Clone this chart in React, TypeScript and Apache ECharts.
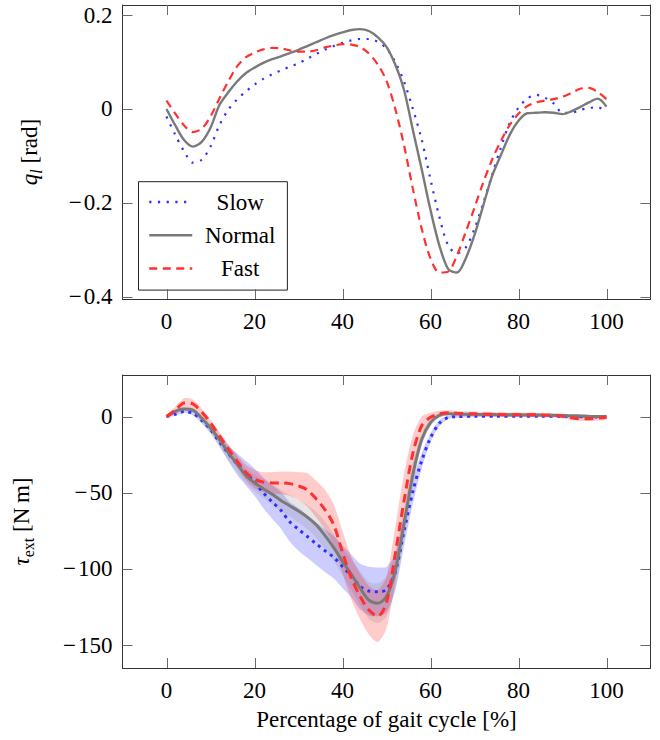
import React, { useEffect, useRef } from 'react';
import * as echarts from 'echarts';

// ---------- data ----------
const xTop = [0, 2, 4, 6, 8, 10, 12, 14, 16, 18, 20, 22, 24, 26, 28, 30, 32, 34, 36, 38, 40, 42, 44, 46, 48, 50,
  52, 54, 56, 58, 60, 62, 64, 66, 68, 70, 72, 74, 76, 78, 80, 82, 84, 86, 88, 90, 92, 94, 96, 98, 100];

const slowQ = [-0.016, -0.055, -0.09, -0.114, -0.108, -0.08, -0.035, -0.002, 0.02, 0.037, 0.052, 0.064, 0.074, 0.082,
  0.09, 0.097, 0.107, 0.117, 0.126, 0.134, 0.141, 0.146, 0.149, 0.149, 0.143, 0.129, 0.1, 0.058, 0.0, -0.065, -0.15,
  -0.229, -0.29, -0.307, -0.295, -0.255, -0.2, -0.14, -0.082, -0.03, 0.003, 0.022, 0.03, 0.024, 0.012, -0.008, -0.008,
  -0.002, 0.002, 0.004, -0.008];

const normalQ = [0.0, -0.035, -0.066, -0.08, -0.07, -0.04, 0.008, 0.035, 0.058, 0.076, 0.088, 0.098, 0.106, 0.112,
  0.119, 0.126, 0.134, 0.142, 0.15, 0.157, 0.163, 0.168, 0.17, 0.166, 0.153, 0.132, 0.094, 0.04, -0.045, -0.128,
  -0.215, -0.29, -0.34, -0.348, -0.318, -0.268, -0.205, -0.143, -0.098, -0.055, -0.025, -0.009, -0.008, -0.007,
  -0.008, -0.011, -0.005, 0.004, 0.014, 0.022, 0.005];

const fastQ = [0.018, -0.01, -0.035, -0.049, -0.042, -0.016, 0.022, 0.058, 0.09, 0.11, 0.12, 0.127, 0.13, 0.129,
  0.125, 0.122, 0.122, 0.125, 0.131, 0.135, 0.138, 0.137, 0.132, 0.118, 0.095, 0.06, 0.0, -0.078, -0.17, -0.255,
  -0.318, -0.348, -0.346, -0.312, -0.262, -0.21, -0.156, -0.108, -0.068, -0.034, -0.01, 0.006, 0.014, 0.018, 0.021,
  0.026, 0.034, 0.043, 0.045, 0.036, 0.021];

const xTau = [0, 2, 4, 6, 8, 10, 12, 14, 16, 18, 20, 22, 24, 26, 28, 30, 32, 34, 36, 38, 40, 42, 44, 46, 48, 50,
  52, 54, 56, 58, 60, 62, 64, 66, 70, 75, 80, 85, 90, 93, 96, 100];

const slowTau = [0, 1.5, 3.3, 2.2, -2.5, -8.5, -16.5, -24, -31, -37, -43, -50, -56, -61.5, -69, -74, -78.7, -83.4,
  -88, -92.3, -98.5, -104.5, -111.5, -114.5, -115, -113.5, -102, -75, -49, -29, -14, -4.4, -0.6, 0, 0.2, 0.3, 0.3,
  0.3, 0.2, 0, -0.3, 0];
const slowTauStd = [0.5, 1, 1, 1.5, 2, 2.5, 3, 5, 7, 8, 9, 10, 11, 12, 13, 14, 14, 14, 14, 14, 14, 14, 15, 16, 16,
  15, 12, 10, 8, 5, 3, 2, 1, 0.8, 0.6, 0.6, 0.6, 0.6, 0.6, 0.6, 0.6, 0.6];

const normalTau = [0, 3.5, 5.0, 4.2, -1.0, -7.5, -15, -23.5, -31, -38.5, -43.5, -47.3, -51, -55, -58.5, -62, -66,
  -71, -78, -86, -95, -103.5, -112.5, -120.5, -122.5, -118, -101, -70, -38, -15, -4, 0.8, 1.8, 1.7, 1.5, 1.3, 1.2,
  1.0, 0.8, 0.5, 0.2, 0];
const normalTauStd = [0.5, 1.5, 1.5, 1.5, 2, 3, 4, 5, 5, 5, 5.5, 6, 6.5, 7, 7, 7.5, 8, 8.5, 9, 9, 9, 10, 11, 12, 13,
  13, 12, 10, 8, 4, 2.5, 1.5, 1, 1, 0.8, 0.8, 0.8, 0.8, 0.8, 0.8, 0.8, 0.8];

const fastTau = [0, 4.2, 9, 8.3, 3, -4, -12.5, -21, -29, -36.5, -41, -43, -43.5, -43.5, -44, -45.5, -48, -54, -61,
  -71, -89, -106, -118, -127, -131, -122, -90, -55, -24, -6, -0.5, 1.8, 2.6, 2.2, 1.8, 1.4, 1.2, 1.1, 0.3, -1.2,
  -1.4, -0.4];
const fastTauStd = [0.5, 2.5, 3, 3, 2.5, 2, 2.5, 3, 4, 5, 6, 6.5, 7, 7.5, 8, 9, 11, 12, 13, 13.5, 14, 14, 15, 16, 17,
  17, 18, 18, 12, 6, 3, 2, 1.5, 1.5, 1.5, 1.5, 1.5, 1.5, 1.5, 1.5, 1.5, 1.5];

const xTicks = [0, 20, 40, 60, 80, 100];
const qTicks = [-0.4, -0.2, 0, 0.2];
const tauTicks = [-150, -100, -50, 0];

// axis ranges
const X_RANGE = [-10, 110];
const Q_RANGE = [-0.4043, 0.2213];
const TAU_RANGE = [-165, 27.3];

// ---------- styles ----------
const SERIF = "'Liberation Serif', 'Times New Roman', Times, serif";
const FS = 23;
const BLUE = '#2f2fff';
const GRAY = '#7a7a7a';
const RED = '#ff3030';
const TICK = '#6a6a6a';
const TICK_LEN = 10;
const FRAME = { show: true, onZero: false, lineStyle: { color: '#333', width: 1 } };

const pair = (xs: number[], ys: number[]) => xs.map((x, i) => [x, ys[i]]);
const fmt = (v: number) => (v < 0 ? '\u2212\u200a' + String(Math.abs(v)) : String(v));

function xAxes(gridIndex: number, withName: boolean) {
  const base = {
    type: 'value',
    gridIndex,
    min: X_RANGE[0],
    max: X_RANGE[1],
    axisLine: FRAME,
    splitLine: { show: false },
    axisTick: { show: false },
  };
  return [
    {
      ...base,
      position: 'bottom',
      axisLabel: { show: true, customValues: xTicks, fontSize: FS, fontFamily: SERIF, color: '#000', margin: 11, formatter: fmt },
      ...(withName
        ? {
            name: 'Percentage of gait cycle [%]',
            nameLocation: 'middle',
            nameGap: 40,
            nameTextStyle: { fontSize: FS, fontFamily: SERIF, color: '#000' },
          }
        : {}),
    },
    { ...base, position: 'top', axisLabel: { show: false } },
  ];
}

function yAxes(gridIndex: number, range: number[], ticks: number[], name: string, gap: number, rich: any) {
  const base = {
    type: 'value',
    gridIndex,
    min: range[0],
    max: range[1],
    axisLine: FRAME,
    splitLine: { show: false },
    axisTick: { show: false },
  };
  return [
    {
      ...base,
      position: 'left',
      axisLabel: { show: true, customValues: ticks, fontSize: FS, fontFamily: SERIF, color: '#000', margin: 10, formatter: fmt },
      name,
      nameLocation: 'middle',
      nameRotate: 90,
      nameGap: gap,
      nameTextStyle: { fontSize: FS, fontFamily: SERIF, color: '#000', rich },
    },
    { ...base, position: 'right', axisLabel: { show: false } },
  ];
}

const richQ = {
  i: { fontSize: FS, fontFamily: SERIF, fontStyle: 'italic', color: '#000', lineHeight: 30, verticalAlign: 'middle' },
  s: { fontSize: 16, fontFamily: SERIF, fontStyle: 'italic', color: '#000', lineHeight: 14, verticalAlign: 'bottom' },
  n: { fontSize: FS, fontFamily: SERIF, color: '#000', lineHeight: 30, verticalAlign: 'middle' },
};
const richTau = {
  i: { fontSize: FS, fontFamily: SERIF, fontStyle: 'italic', color: '#000', lineHeight: 30, verticalAlign: 'middle' },
  s: { fontSize: 16, fontFamily: SERIF, color: '#000', lineHeight: 14, verticalAlign: 'bottom' },
  n: { fontSize: FS, fontFamily: SERIF, color: '#000', lineHeight: 30, verticalAlign: 'middle' },
};

// mean ± std band drawn as a polygon through the axis scales
function band(mean: number[], std: number[], color: string) {
  const upper = pair(xTau, mean.map((m, i) => m + std[i]));
  const lower = pair(xTau, mean.map((m, i) => m - std[i]));
  return {
    type: 'custom',
    xAxisIndex: 2,
    yAxisIndex: 2,
    silent: true,
    z: 1,
    data: [[0, 0]],
    renderItem: (_params: any, api: any) => {
      const pts = upper.map((p) => api.coord(p)).concat(lower.slice().reverse().map((p) => api.coord(p)));
      return { type: 'polygon', shape: { points: pts, smooth: 0.25 }, style: { fill: color } };
    },
  };
}

// mirrored inside tick marks drawn through the axes' own scales
function ticks(axis: number, yRange: number[], yTicks: number[]) {
  return {
    type: 'custom',
    xAxisIndex: axis,
    yAxisIndex: axis,
    silent: true,
    clip: false,
    z: 5,
    data: [[0, 0]],
    renderItem: (_params: any, api: any) => {
      const lb = api.coord([X_RANGE[0], yRange[0]]);
      const rt = api.coord([X_RANGE[1], yRange[1]]);
      const left = lb[0];
      const bottom = lb[1];
      const right = rt[0];
      const top = rt[1];
      const st = { stroke: TICK, lineWidth: 1, fill: null };
      const children: any[] = [];
      xTicks.forEach((v) => {
        const x = Math.round(api.coord([v, yRange[0]])[0]) + 0.5;
        children.push({ type: 'line', shape: { x1: x, y1: bottom, x2: x, y2: bottom - TICK_LEN }, style: st });
        children.push({ type: 'line', shape: { x1: x, y1: top, x2: x, y2: top + TICK_LEN }, style: st });
      });
      yTicks.forEach((v) => {
        const y = Math.round(api.coord([X_RANGE[0], v])[1]) + 0.5;
        children.push({ type: 'line', shape: { x1: left, y1: y, x2: left + TICK_LEN, y2: y }, style: st });
        children.push({ type: 'line', shape: { x1: right, y1: y, x2: right - TICK_LEN, y2: y }, style: st });
      });
      return { type: 'group', children };
    },
  };
}

function line(name: string, xs: number[], ys: number[], color: string, width: number, type: any, axis: number) {
  return {
    name,
    type: 'line',
    xAxisIndex: axis,
    yAxisIndex: axis,
    data: pair(xs, ys),
    smooth: 0.3,
    symbol: 'none',
    z: 3,
    itemStyle: { color },
    lineStyle: { color, width, type },
  };
}

const option = {
  animation: false,
  backgroundColor: '#fff',
  grid: [
    { left: 122.5, top: 5, width: 528, height: 294, show: false },
    { left: 122.5, top: 375, width: 528, height: 293, show: false },
  ],
  xAxis: [...xAxes(0, false), ...xAxes(1, true)],
  yAxis: [
    ...yAxes(0, Q_RANGE, qTicks, '{i|q}{s|l}{n| [rad]}', 78, richQ),
    ...yAxes(1, TAU_RANGE, tauTicks, '{i|\u03c4}{s|ext}{n| [N\u2009m]}', 86, richTau),
  ],
  legend: {
    data: ['Slow', 'Normal', 'Fast'],
    orient: 'vertical',
    left: 138.5,
    top: 181.7,
    padding: [8.8, 12, 10.2, 9.5],
    itemGap: 10.2,
    itemWidth: 43,
    itemHeight: 14,
    borderColor: '#222',
    borderWidth: 1,
    borderRadius: 0,
    backgroundColor: '#fff',
    selectedMode: false,
    itemStyle: { opacity: 0 },
    lineStyle: { width: 2.5 },
    formatter: (n: string) => `{t|${n}}`,
    textStyle: {
      fontSize: FS,
      fontFamily: SERIF,
      color: '#000',
      rich: { t: { width: 86, align: 'center', fontSize: FS, fontFamily: SERIF, color: '#000' } },
    },
  },
  series: [
    ticks(0, Q_RANGE, qTicks),
    ticks(2, TAU_RANGE, tauTicks),
    line('Slow', xTop, slowQ, BLUE, 2.2, [2.2, 6.5], 0),
    line('Normal', xTop, normalQ, GRAY, 2.4, 'solid', 0),
    line('Fast', xTop, fastQ, RED, 2.2, [8, 5.5], 0),
    band(slowTau, slowTauStd, 'rgba(0,0,255,0.2)'),
    band(normalTau, normalTauStd, 'rgba(128,128,128,0.2)'),
    band(fastTau, fastTauStd, 'rgba(255,0,0,0.2)'),
    line('Slow', xTau, slowTau, BLUE, 3, [3, 4.5], 2),
    line('Normal', xTau, normalTau, GRAY, 3, 'solid', 2),
    line('Fast', xTau, fastTau, RED, 3, [9, 5.5], 2),
  ],
};

export default function App() {
  const ref = useRef<HTMLDivElement>(null);
  useEffect(() => {
    if (!ref.current) return;
    const chart = echarts.init(ref.current, null, { renderer: 'svg' });
    chart.setOption(option as any);
    return () => chart.dispose();
  }, []);
  return <div ref={ref} style={{ position: 'absolute', left: 0, top: 0, width: 660, height: 740 }} />;
}
